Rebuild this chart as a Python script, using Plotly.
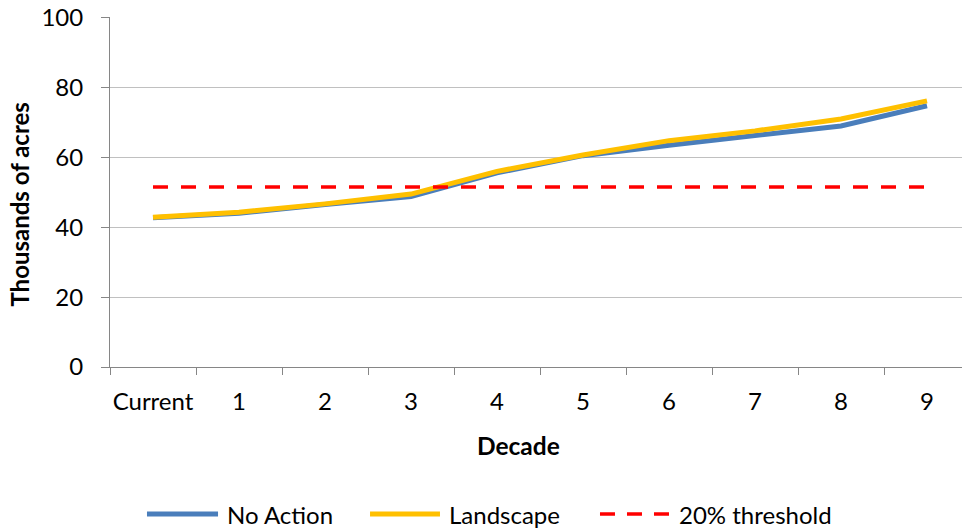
import plotly.graph_objects as go

decades = ["Current", "1", "2", "3", "4", "5", "6", "7", "8", "9"]
no_action = [42.7, 44.0, 46.5, 48.8, 55.6, 60.5, 63.5, 66.2, 69.0, 74.8]
landscape = [42.9, 44.3, 46.7, 49.5, 56.0, 60.7, 64.8, 67.6, 71.0, 76.2]
threshold = [51.5] * 10
y_ticks = [0, 20, 40, 60, 80, 100]

series_names = ["No Action", "Landscape", "20% threshold"]
colors = ["#4A7EBB", "#FFC000", "#FF0000"]

FONT = "Lato"

fig = go.Figure()
fig.add_trace(go.Scatter(x=decades, y=no_action, mode="lines", name=series_names[0],
                         line=dict(color=colors[0], width=5)))
fig.add_trace(go.Scatter(x=decades, y=landscape, mode="lines", name=series_names[1],
                         line=dict(color=colors[1], width=5)))
fig.add_trace(go.Scatter(x=decades, y=threshold, mode="lines", name=series_names[2],
                         line=dict(color=colors[2], width=3.5, dash="15px,13px")))

# custom legend (paper coordinates relative to plot area)
leg_y = -0.42
leg_items = [
    (0.0434, 0.1268, 0.1350, dict(color=colors[0], width=5)),
    (0.3052, 0.3873, 0.3955, dict(color=colors[1], width=5)),
    (0.5751, 0.6573, 0.6655, dict(color=colors[2], width=3.5, dash="15px,12px")),
]
shapes = []
annotations = []
for name, (x0, x1, xt, ln) in zip(series_names, leg_items):
    shapes.append(dict(type="line", xref="paper", yref="paper", x0=x0, x1=x1,
                       y0=leg_y, y1=leg_y, line=ln))
    annotations.append(dict(text=name, xref="paper", yref="paper", x=xt, y=leg_y,
                            xanchor="left", yanchor="middle", showarrow=False,
                            font=dict(family=FONT, size=24, color="#000000")))

# axis titles
annotations.append(dict(text="<b>Decade</b>", xref="paper", yref="paper", x=0.479, y=-0.2257,
                        xanchor="center", yanchor="middle", showarrow=False,
                        font=dict(family=FONT, size=24.5, color="#000000")))
annotations.append(dict(text="<b>Thousands of acres</b>", xref="paper", yref="paper",
                        x=-0.106, y=0.466, textangle=-90,
                        xanchor="center", yanchor="middle", showarrow=False,
                        font=dict(family=FONT, size=24, color="#000000")))

fig.update_layout(
    width=962, height=529,
    margin=dict(l=110, r=0, t=17, b=162),
    paper_bgcolor="white", plot_bgcolor="white",
    showlegend=False,
    font=dict(family=FONT, size=24, color="#000000"),
    shapes=shapes, annotations=annotations,
    xaxis=dict(
        type="category", categoryorder="array", categoryarray=decades,
        range=[-0.5, 9.407],
        tickson="boundaries", ticks="outside", ticklen=7, tickcolor="#868686",
        tickwidth=1, tickangle=0,
        showline=True, linecolor="#868686", linewidth=1,
        showgrid=False, zeroline=False,
        tickfont=dict(family=FONT, size=24, color="#000000"),
        ticklabelstandoff=13,
    ),
    yaxis=dict(
        range=[0, 100.2], tickvals=y_ticks,
        ticks="outside", ticklen=8, tickcolor="#868686", tickwidth=1,
        showline=True, linecolor="#868686", linewidth=1,
        showgrid=True, gridcolor="#C0C0C0", gridwidth=1,
        zeroline=False, ticklabeloverflow="allow",
        tickfont=dict(family=FONT, size=24, color="#000000"),
        ticklabelstandoff=13,
    ),
)

fig.write_html(
    "out.html",
    config={"displayModeBar": False},
    post_script="document.body.style.margin='0';document.body.style.overflow='hidden';",
)
